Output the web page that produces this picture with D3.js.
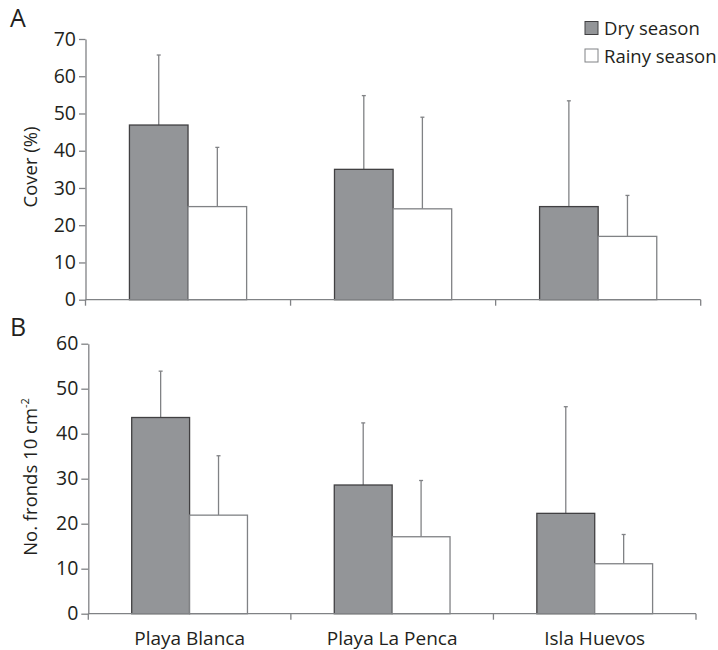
<!DOCTYPE html>
<html>
<head>
<meta charset="utf-8">
<script src="https://cdn.jsdelivr.net/npm/d3@7"></script>
<style>
  html, body { margin: 0; padding: 0; background: #fff; }
  svg { display: block; }
  text { font-family: "Open Sans", "Noto Sans", sans-serif; fill: #231f20; }
</style>
</head>
<body>
<div id="chart"></div>
<script>
// ---- data ----
const categories = ["Playa Blanca", "Playa La Penca", "Isla Huevos"];
const seriesNames = ["Dry season", "Rainy season"];

// Panel A: cover (%), mean and SD (upper error bar length)
const coverDry = [46.9, 35.0, 25.0];
const coverDryErr = [18.8, 19.8, 28.4];
const coverRainy = [25.0, 24.4, 17.0];
const coverRainyErr = [15.9, 24.6, 11.0];
const coverTicks = [0, 10, 20, 30, 40, 50, 60, 70];

// Panel B: no. fronds 10 cm-2
const frondsDry = [43.6, 28.6, 22.3];
const frondsDryErr = [10.3, 13.8, 23.7];
const frondsRainy = [21.9, 17.1, 11.1];
const frondsRainyErr = [13.2, 12.5, 6.5];
const frondsTicks = [0, 10, 20, 30, 40, 50, 60];

// ---- layout ----
const W = 718, H = 650;
const svg = d3.select("#chart").append("svg").attr("width", W).attr("height", H);

const FILL = { "Dry season": "#939598", "Rainy season": "#ffffff" };
const STROKE = { "Dry season": "#414042", "Rainy season": "#808285" };
const AXIS = "#808285";
const FS = 18.5;
const TICK_FS = 19.5;
const CAT_FS = 19;

function panel(cfg) {
  const g = svg.append("g");
  const y = d3.scaleLinear().domain([0, cfg.max]).range([cfg.y0, cfg.y1]);
  const x0 = d3.scaleBand().domain(categories).range([cfg.xl, cfg.xr]).paddingInner(0).paddingOuter(0);
  const x1 = d3.scaleBand().domain(seriesNames).range([0, x0.bandwidth()]).paddingInner(0).paddingOuter(0.75);

  const rows = categories.map((c, i) => ({
    cat: c,
    vals: [
      { s: seriesNames[0], v: cfg.dry[i], e: cfg.dryErr[i] },
      { s: seriesNames[1], v: cfg.rainy[i], e: cfg.rainyErr[i] }
    ]
  }));

  // error bars
  const eg = g.append("g");
  rows.forEach(r => r.vals.forEach(d => {
    const cx = x0(r.cat) + x1(d.s) + x1.bandwidth() / 2;
    eg.append("line").attr("x1", cx).attr("x2", cx)
      .attr("y1", y(d.v)).attr("y2", y(d.v + d.e))
      .attr("stroke", AXIS).attr("stroke-width", 1.3);
    eg.append("line").attr("x1", cx - 2).attr("x2", cx + 2)
      .attr("y1", y(d.v + d.e)).attr("y2", y(d.v + d.e))
      .attr("stroke", AXIS).attr("stroke-width", 1.3);
  }));

  // bars
  rows.forEach(r => r.vals.forEach(d => {
    g.append("rect")
      .attr("x", x0(r.cat) + x1(d.s))
      .attr("y", y(d.v))
      .attr("width", x1.bandwidth())
      .attr("height", y(0) - y(d.v))
      .attr("fill", FILL[d.s])
      .attr("stroke", STROKE[d.s])
      .attr("stroke-width", 1.3);
  }));

  // y axis
  const ya = d3.axisLeft(y).tickValues(cfg.ticks).tickSize(cfg.tick).tickPadding(3).tickSizeOuter(0);
  const yg = g.append("g").attr("transform", `translate(${cfg.xl},0)`).call(ya);
  yg.select(".domain").attr("stroke", AXIS).attr("stroke-width", 1.3);
  yg.selectAll(".tick line").attr("stroke", AXIS).attr("stroke-width", 1.3);
  yg.selectAll(".tick text").attr("font-size", TICK_FS).attr("font-family", null).attr("fill", "#231f20");

  // x axis: line plus ticks at band edges
  const edges = categories.map(c => x0(c)).concat([x0(categories[categories.length - 1]) + x0.bandwidth()]);
  g.append("line").attr("x1", cfg.xl).attr("x2", cfg.xr).attr("y1", y(0)).attr("y2", y(0))
    .attr("stroke", AXIS).attr("stroke-width", 1.3);
  edges.forEach(ex => {
    g.append("line").attr("x1", ex).attr("x2", ex).attr("y1", y(0)).attr("y2", y(0) + 6)
      .attr("stroke", AXIS).attr("stroke-width", 1.3);
  });

  if (cfg.labels) {
    categories.forEach(c => {
      g.append("text").attr("x", x0(c) + x0.bandwidth() / 2).attr("y", cfg.labelY)
        .attr("text-anchor", "middle").attr("font-size", CAT_FS).text(c);
    });
  }

  // y title
  const t = g.append("text")
    .attr("transform", `translate(37,${cfg.titleY}) rotate(-90)`)
    .attr("text-anchor", "middle").attr("font-size", FS);
  cfg.title(t);

  // panel letter
  g.append("text").attr("x", 10).attr("y", cfg.letterY).attr("font-size", 25).text(cfg.letter);
}

panel({
  letter: "A", letterY: 27,
  max: 70, ticks: coverTicks, y0: 299.7, y1: 39,
  xl: 85.5, xr: 700.7, tick: 6.5,
  dry: coverDry, dryErr: coverDryErr, rainy: coverRainy, rainyErr: coverRainyErr,
  titleY: 167,
  title: t => t.text("Cover (%)"),
  labels: false
});

panel({
  letter: "B", letterY: 336,
  max: 60, ticks: frondsTicks, y0: 613.7, y1: 343.7,
  xl: 88.3, xr: 696, tick: 7,
  dry: frondsDry, dryErr: frondsDryErr, rainy: frondsRainy, rainyErr: frondsRainyErr,
  titleY: 477,
  title: t => {
    t.append("tspan").text("No. fronds 10 cm");
    t.append("tspan").attr("font-size", 11).attr("dy", -8).text("-2");
  },
  labels: true, labelY: 645
});

// legend
const leg = svg.append("g");
seriesNames.forEach((s, i) => {
  const ly = 21.5 + i * 27.5;
  leg.append("rect").attr("x", 585).attr("y", ly).attr("width", 13).attr("height", 13)
    .attr("fill", FILL[s]).attr("stroke", STROKE[s]).attr("stroke-width", 1);
  leg.append("text").attr("x", 604).attr("y", ly + 13.5).attr("font-size", FS).text(s);
});
</script>
</body>
</html>
